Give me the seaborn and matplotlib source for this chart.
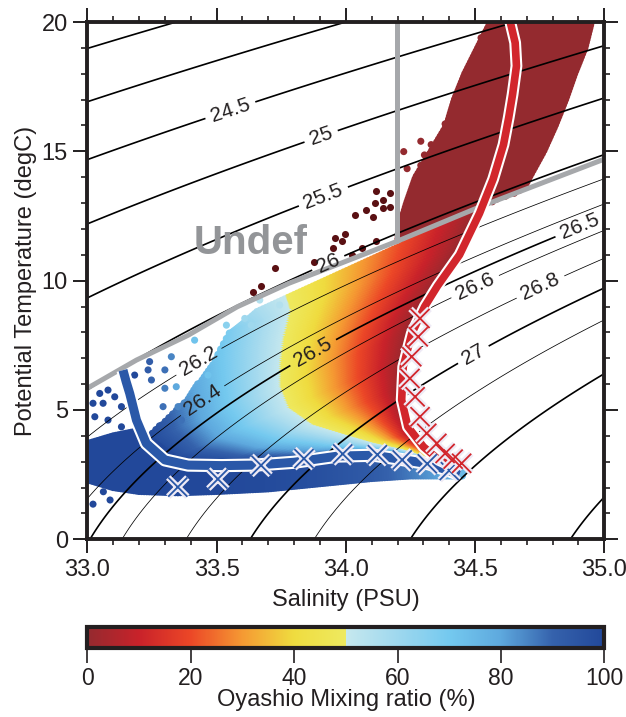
import numpy as np
import pandas as pd
import matplotlib
matplotlib.use("Agg")
import matplotlib.pyplot as plt
import seaborn as sns
from matplotlib.colors import LinearSegmentedColormap, Normalize
from matplotlib.cm import ScalarMappable
from matplotlib import patheffects as pe
from matplotlib.ticker import MultipleLocator, FormatStrFormatter

# ------------------------------------------------------------------ data
# Kuroshio end-member profile (red line)
KURO_S = [34.636, 34.655, 34.66, 34.645, 34.63, 34.61, 34.57, 34.517, 34.44,
          34.355, 34.305, 34.255, 34.222, 34.216, 34.24, 34.30, 34.36, 34.43]
KURO_T = [20.0, 19.2, 18.3, 17.2, 16.3, 15.26, 13.93, 12.6, 11.0,
          9.8, 9.0, 7.96, 6.67, 5.39, 4.35, 3.58, 3.07, 2.75]
# Oyashio end-member profile (blue line)
OYA_S = [33.138, 33.150, 33.164, 33.19, 33.228, 33.30, 33.39, 33.52, 33.65,
         33.80, 33.97, 34.11, 34.22, 34.32, 34.40, 34.44]
OYA_T = [6.54, 6.10, 5.64, 4.61, 3.71, 3.07, 2.87, 2.85, 2.87,
         2.98, 3.22, 3.25, 3.08, 2.92, 2.65, 2.50]
# end-member marks (X)
KURO_X_S = [34.287, 34.28, 34.255, 34.248, 34.268, 34.287, 34.313, 34.352, 34.384, 34.415, 34.448]
KURO_X_T = [8.54, 7.83, 7.06, 6.22, 5.51, 4.74, 4.10, 3.71, 3.32, 3.10, 2.94]
OYA_X_S = [33.350, 33.505, 33.672, 33.838, 33.988, 34.122, 34.218, 34.315, 34.400]
OYA_X_T = [2.02, 2.33, 2.86, 3.12, 3.30, 3.27, 3.07, 2.92, 2.66]

# isopycnal mixing pairs (Kuroshio point -> Oyashio point) and ratio reach
MIX_KS = [34.52, 34.44, 34.355, 34.29, 34.25, 34.225, 34.218, 34.228, 34.26, 34.315, 34.37, 34.43]
MIX_KT = [12.75, 11.1, 9.8, 8.8, 7.9, 6.9, 5.8, 4.8, 4.0, 3.45, 3.05, 2.72]
MIX_OS = [33.02, 33.13, 33.16, 33.20, 33.24, 33.33, 33.52, 33.80, 33.95, 34.12, 34.27, 34.40]
MIX_OT = [5.90, 6.50, 5.60, 4.60, 3.70, 3.05, 2.85, 2.95, 3.20, 3.25, 2.97, 2.60]
MIX_RMAX = [0.58, 0.68, 0.73, 0.84, 1.05, 1.05, 1.05, 1.05, 1.10, 1.15, 1.15, 1.10]

# deep Oyashio-type water band
DEEP_S = [33.0, 33.1, 33.2, 33.35, 33.5, 33.7, 33.9, 34.1, 34.25, 34.38, 34.45]
DEEP_UP = [3.7, 4.0, 4.2, 3.05, 2.9, 2.9, 3.05, 3.25, 3.05, 2.8, 2.6]
DEEP_LO = [2.3, 2.0, 1.85, 1.8, 1.85, 1.95, 2.15, 2.35, 2.45, 2.45, 2.45]
DEEP_R = [100, 100, 100, 100, 100, 99, 97, 93, 87, 80, 75]

# Kuroshio surface water band (0 % Oyashio)
KB_T = [11.4, 12.0, 13.0, 14.0, 15.0, 16.0, 17.0, 18.0, 19.0, 20.0]
KB_W = [34.20, 34.205, 34.235, 34.27, 34.33, 34.39, 34.42, 34.46, 34.51, 34.56]
KB_E = [34.58, 34.60, 34.66, 34.71, 34.765, 34.81, 34.85, 34.885, 34.925, 34.95]

# scattered stations
SP_S = [34.523, 34.544, 34.49, 34.497, 34.464, 34.41, 34.437, 34.384, 34.29, 34.33,
        34.224, 34.304, 34.344, 34.29, 34.357, 34.237, 34.29,
        33.667, 33.744, 33.609, 33.634, 33.538, 33.544, 33.415, 33.467, 33.325, 33.344,
        33.30, 33.241, 33.235, 33.248, 33.293, 33.351, 33.364, 33.30, 33.157,
        33.183, 33.08, 33.106, 33.048, 33.022, 33.061, 33.132, 33.029, 33.08, 33.132,
        33.022, 33.088, 33.062]
SP_T = [19.39, 19.59, 18.05, 17.66, 17.52, 16.46, 16.86, 16.06, 15.39, 15.26,
        14.99, 14.86, 14.60, 14.46, 14.19, 14.33, 13.79,
        9.25, 9.06, 8.54, 8.28, 8.28, 7.58, 7.70, 6.35, 7.06, 5.90,
        6.55, 6.87, 6.55, 6.16, 5.13, 5.13, 4.61, 5.84, 5.90,
        6.35, 5.77, 5.51, 5.64, 5.26, 5.26, 5.13, 4.74, 4.61, 4.35,
        1.36, 1.52, 1.84]
SP_R = [0] * 17 + [55, 55, 60, 60, 65, 68, 72, 72, 85, 80,
                   88, 92, 92, 90, 88, 85, 88, 86, 96,
                   100, 100, 100, 100, 100, 100, 100, 100, 100, 100,
                   100, 100, 100]
# stations in the undefined domain
UNDEF_S = [34.117, 34.144, 34.111, 34.077, 34.144, 34.104, 34.037, 33.998, 33.957, 33.984,
           34.024, 34.064, 34.117, 34.17, 34.17, 33.878, 33.725, 33.67, 33.64, 33.951]
UNDEF_T = [13.46, 13.13, 12.99, 12.73, 12.80, 12.46, 12.53, 11.80, 11.66, 11.53,
           11.00, 11.27, 11.53, 13.40, 12.86, 10.73, 10.48, 9.79, 9.57, 11.27]

# boundaries of the undefined domain
GRAY_S = [33.0, 33.19, 33.39, 33.58, 33.78, 33.98, 34.20, 34.52, 35.0]
GRAY_T = [5.84, 6.93, 7.89, 8.99, 9.90, 10.67, 11.53, 12.86, 14.70]
VERT_S = 34.197
VERT_T = [11.53, 20.0]

# density contours
THICK_LABELED = [24.5, 25.0, 25.5, 26.0, 26.5, 27.0]
THICK_PLAIN = [22.5, 23.0, 23.5, 24.0, 27.5, 28.0, 28.5]
THIN_LABELED = [26.2, 26.4, 26.6, 26.8]
THIN_PLAIN = [27.2]
THICK_LABEL_POS = [(33.558, 16.45), (33.911, 15.39), (33.923, 13.0), (33.944, 10.41),
                   (34.91, 11.96), (33.877, 7.16), (34.496, 7.09)]
THIN_LABEL_POS = [(33.438, 6.76), (33.45, 5.3), (34.517, 9.41), (34.757, 9.67)]

CB_TICKS = [0, 20, 40, 60, 80, 100]
CMAP_NODES = [(0.00, "#942a2f"), (0.10, "#c9222a"), (0.20, "#ec4727"), (0.30, "#f59a33"),
              (0.40, "#efdc3f"), (0.4999, "#eeea60"), (0.50, "#c6e8ee"), (0.60, "#9fd8ee"),
              (0.70, "#74c9ef"), (0.80, "#5ea9de"), (0.90, "#3562ac"), (1.00, "#22489a")]

INK = "#231f20"
RED = "#d2262c"
BLUE = "#2a58a8"
GRAY = "#a6a8ab"

# ------------------------------------------------------------------ helpers
def sigma_t(S, T):
    rw = (999.842594 + 6.793952e-2 * T - 9.095290e-3 * T**2 + 1.001685e-4 * T**3
          - 1.120083e-6 * T**4 + 6.536332e-9 * T**5)
    A = 8.24493e-1 - 4.0899e-3 * T + 7.6438e-5 * T**2 - 8.2467e-7 * T**3 + 5.3875e-9 * T**4
    B = -5.72466e-3 + 1.0227e-4 * T - 1.6546e-6 * T**2
    C = 4.8314e-4
    return rw + A * S + B * S**1.5 + C * S**2 - 1000.0


cmap = LinearSegmentedColormap.from_list("mix", CMAP_NODES, N=512)

# Kuroshio band (only above the undefined boundary)
kb_rows = []
for t in np.arange(KB_T[0], KB_T[-1] + 1e-6, 0.11):
    w = np.interp(t, KB_T, KB_W)
    e = np.interp(t, KB_T, KB_E)
    for f in np.linspace(0, 1, 32):
        s = w + f * (e - w)
        if t >= np.interp(s, GRAY_S, GRAY_T):
            kb_rows.append((s, t, 0.0))

# mixing cloud
mix_rows = []
lev = np.arange(len(MIX_KS))
u = np.linspace(0, len(MIX_KS) - 1, (len(MIX_KS) - 1) * 12 + 1)
ks, kt = np.interp(u, lev, MIX_KS), np.interp(u, lev, MIX_KT)
os_, ot = np.interp(u, lev, MIX_OS), np.interp(u, lev, MIX_OT)
rm = np.interp(u, lev, MIX_RMAX)
for i in range(len(u)):
    for r in np.arange(0.0, rm[i] + 1e-9, 0.008):
        mix_rows.append((ks[i] + r * (os_[i] - ks[i]), kt[i] + r * (ot[i] - kt[i]),
                         100.0 * min(r, 1.0)))

# deep band
deep_rows = []
for s in np.arange(DEEP_S[0], DEEP_S[-1] + 1e-6, 0.01):
    up = np.interp(s, DEEP_S, DEEP_UP)
    lo = np.interp(s, DEEP_S, DEEP_LO)
    rr = np.interp(s, DEEP_S, DEEP_R)
    for f in np.linspace(0, 1, 16):
        deep_rows.append((s, lo + f * (up - lo), rr))

sp_rows = list(zip(SP_S, SP_T, SP_R))
df = pd.DataFrame(kb_rows + mix_rows + deep_rows + sp_rows, columns=["S", "T", "ratio"])

# ------------------------------------------------------------------ figure
sns.set_style("ticks")
plt.rcParams["font.family"] = ["Liberation Sans", "DejaVu Sans"]
plt.rcParams["text.color"] = INK
plt.rcParams["axes.labelcolor"] = INK
plt.rcParams["xtick.color"] = INK
plt.rcParams["ytick.color"] = INK

fig = plt.figure(figsize=(6.26, 7.17), dpi=100)
ax = fig.add_axes([0.1395, 0.2478, 0.8259, 0.7215])

sns.scatterplot(data=df, x="S", y="T", hue="ratio", palette=cmap, hue_norm=(0, 100),
                s=26, linewidth=0, legend=False, ax=ax, zorder=1)
sns.scatterplot(x=UNDEF_S, y=UNDEF_T, color="#5a1013", s=26, linewidth=0,
                legend=False, ax=ax, zorder=1)

ax.set_xlim(33.0, 35.0)
ax.set_ylim(0, 20)

Sg, Tg = np.meshgrid(np.linspace(32.9, 35.1, 300), np.linspace(-0.5, 20.5, 300))
SIG = sigma_t(Sg, Tg)
fmt = lambda v: f"{v:g}"
ax.contour(Sg, Tg, SIG, levels=THICK_PLAIN, colors="black", linewidths=1.2, zorder=2)
ax.contour(Sg, Tg, SIG, levels=THIN_PLAIN, colors="black", linewidths=0.55, zorder=2)
cs1 = ax.contour(Sg, Tg, SIG, levels=THICK_LABELED, colors="black", linewidths=1.2, zorder=2)
cs2 = ax.contour(Sg, Tg, SIG, levels=THIN_LABELED, colors="black", linewidths=0.55, zorder=2)
ax.clabel(cs1, manual=THICK_LABEL_POS, inline=True, inline_spacing=6,
          fontsize=15, fmt=fmt, colors=INK)
ax.clabel(cs2, manual=THIN_LABEL_POS, inline=True, inline_spacing=6,
          fontsize=15, fmt=fmt, colors=INK)

# undefined domain boundaries
sns.lineplot(x=GRAY_S, y=GRAY_T, sort=False, estimator=None, color=GRAY, lw=3.6,
             ax=ax, zorder=3)
sns.lineplot(x=[VERT_S, VERT_S], y=VERT_T, sort=False, estimator=None, color=GRAY,
             lw=3.6, ax=ax, zorder=3)
ax.text(33.633, 11.45, "Undef", fontsize=29, fontweight="bold", color="#939598",
        ha="center", va="center", zorder=3)

# end-member profiles
halo = lambda w: [pe.Stroke(linewidth=w, foreground="white"), pe.Normal()]
sns.lineplot(x=OYA_S, y=OYA_T, sort=False, estimator=None, color=BLUE, lw=6.5,
             ax=ax, zorder=4, path_effects=halo(9.5), solid_capstyle="butt")
sns.lineplot(x=KURO_S, y=KURO_T, sort=False, estimator=None, color=RED, lw=5.5,
             ax=ax, zorder=4, path_effects=halo(8.5), solid_capstyle="butt")

xhalo = [pe.Stroke(linewidth=4.5, foreground="#eeeaf5"), pe.Normal()]
sns.scatterplot(x=OYA_X_S, y=OYA_X_T, marker="x", s=190, color=BLUE, linewidth=1.3,
                ax=ax, zorder=5, legend=False, path_effects=xhalo)
sns.scatterplot(x=KURO_X_S, y=KURO_X_T, marker="x", s=190, color=RED, linewidth=1.3,
                ax=ax, zorder=5, legend=False, path_effects=xhalo)

# axes styling
ax.xaxis.set_major_locator(MultipleLocator(0.5))
ax.xaxis.set_minor_locator(MultipleLocator(0.1))
ax.yaxis.set_major_locator(MultipleLocator(5))
ax.yaxis.set_minor_locator(MultipleLocator(1))
ax.xaxis.set_major_formatter(FormatStrFormatter("%.1f"))
ax.tick_params(which="both", direction="out", top=True, right=True,
               labeltop=False, labelright=False, colors=INK)
ax.tick_params(which="major", length=10, width=1.4, labelsize=17, pad=4)
ax.tick_params(which="minor", length=4.5, width=1.2)
for sp in ax.spines.values():
    sp.set_linewidth(2.8)
    sp.set_color(INK)
    sp.set_zorder(10)
ax.set_xlabel("Salinity (PSU)", fontsize=17, labelpad=6)
ax.set_ylabel("Potential Temperature (degC)", fontsize=17, labelpad=3)

# colorbar
cax = fig.add_axes([0.1395, 0.0962, 0.8259, 0.0293])
cb = fig.colorbar(ScalarMappable(norm=Normalize(0, 100), cmap=cmap), cax=cax,
                  orientation="horizontal", ticks=CB_TICKS)
cb.outline.set_linewidth(3.0)
cb.outline.set_edgecolor(INK)
cax.tick_params(direction="out", length=11, width=1.2, labelsize=16.5, pad=3, colors=INK)
cb.set_label("Oyashio Mixing ratio (%)", fontsize=17, labelpad=-1)

fig.savefig("out.png", dpi=100)
